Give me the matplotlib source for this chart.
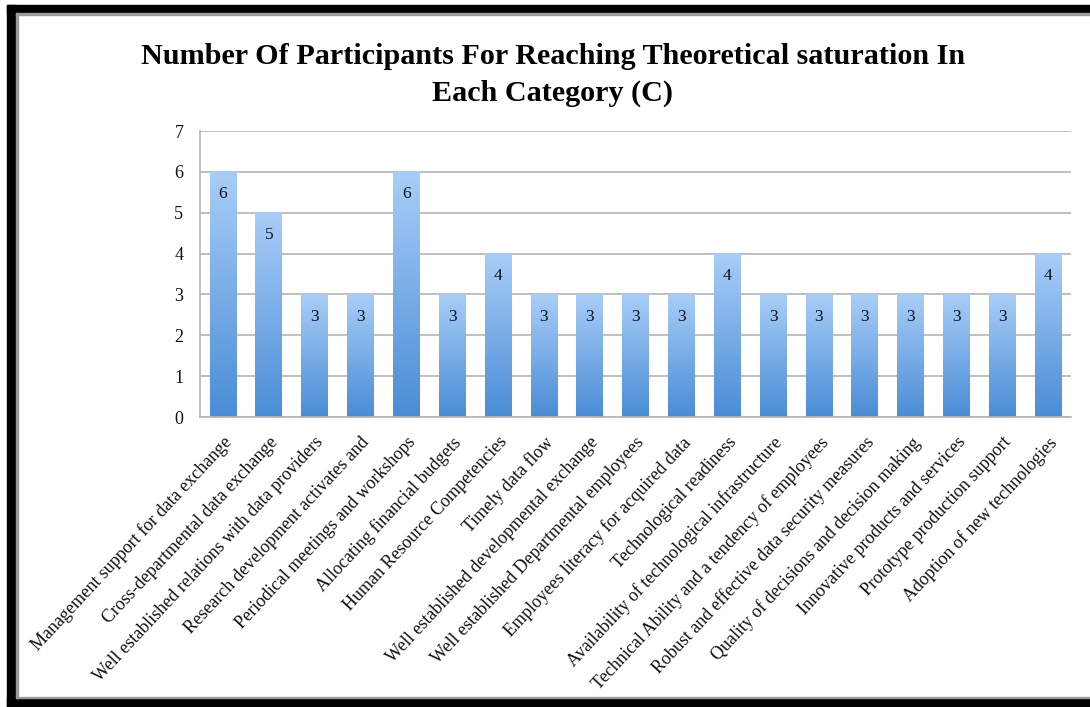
import matplotlib
matplotlib.use('Agg')

import numpy as np
import matplotlib.pyplot as plt
from matplotlib.patches import Rectangle
from matplotlib.colors import LinearSegmentedColormap

# category names along the x axis
categories = [
    "Management support for data exchange",
    "Cross-departmental data exchange",
    "Well established relations with data providers",
    "Research development activates and",
    "Periodical meetings and workshops",
    "Allocating financial budgets",
    "Human Resource Competencies",
    "Timely data flow",
    "Well established developmental exchange",
    "Well established Departmental employees",
    "Employees literacy for acquired data",
    "Technological readiness",
    "Availability of technological infrastructure",
    "Technical Ability and a tendency of employees",
    "Robust and effective data security measures",
    "Quality of decisions and decision making",
    "Innovative products and services",
    "Prototype production support",
    "Adoption of new technologies",
]
# participants needed per category
participants = [6, 5, 3, 3, 6, 3, 4, 3, 3, 3, 3, 4, 3, 3, 3, 3, 3, 3, 4]
y_ticks = [0, 1, 2, 3, 4, 5, 6, 7]

title = "Number Of Participants For Reaching Theoretical saturation In\nEach Category (C)"

plt.rcParams['font.family'] = ['Liberation Serif', 'DejaVu Serif']

W, H = 1090, 707
fig = plt.figure(figsize=(W / 100, H / 100), dpi=100)
fig.patch.set_facecolor('white')

# heavy black frame (left, top, bottom) with thin grey inner line
def px_rect(x0, y0, x1, y1, color):
    fig.patches.append(Rectangle((x0 / W, 1 - y1 / H), (x1 - x0) / W, (y1 - y0) / H,
                                 transform=fig.transFigure, color=color, zorder=0))

px_rect(7, 5, W, 13, 'black')
px_rect(7, 5, 16, H, 'black')
px_rect(7, 698, W, H, 'black')
px_rect(16, 13, W, 14.5, '#9a9a9a')
px_rect(16, 696.5, W, 698, '#9a9a9a')
px_rect(16, 13, 17.5, 698, '#9a9a9a')

ax = fig.add_axes([200 / W, 1 - 417 / H, (1071 - 200) / W, (417 - 131) / H])
ax.set_facecolor('none')

x = np.arange(len(categories))
bars = ax.bar(x, participants, width=0.58, color='none', edgecolor='none', zorder=2)

# vertical gradient fill per bar: light on top, deeper blue at the base
cmap = LinearSegmentedColormap.from_list('barfill', ['#4a8dd6', '#a9cdf8'])
grad = np.linspace(0, 1, 256).reshape(-1, 1)
for b in bars:
    x0, w, h = b.get_x(), b.get_width(), b.get_height()
    ax.imshow(grad, extent=[x0, x0 + w, 0, h], origin='lower', aspect='auto',
              cmap=cmap, zorder=2, interpolation='bicubic')
    ax.text(x0 + w / 2, h - 0.55, str(h), ha='center', va='center',
            fontsize=12.5, color='#111111', zorder=3)

ax.set_xlim(-0.5, len(categories) - 0.5)
ax.set_ylim(0, 7)
ax.set_yticks(y_ticks)
ax.yaxis.grid(True, color='#b4b4b4', linewidth=1.2, zorder=1)
ax.set_axisbelow(True)
for s in ['top', 'right']:
    ax.spines[s].set_visible(False)
for s in ['left', 'bottom']:
    ax.spines[s].set_color('#b4b4b4')
    ax.spines[s].set_linewidth(1.2)
ax.tick_params(axis='both', length=0, labelsize=13, colors='#111111')
ax.tick_params(axis='y', pad=12)
ax.set_xticks(x)
ax.set_xticklabels(categories, rotation=47, ha='right', rotation_mode='anchor')
ax.tick_params(axis='x', pad=12)

fig.text(553 / W, 1 - 75 / H, title, ha='center', va='center', fontsize=21.7,
         fontweight='bold', linespacing=1.5)

fig.savefig('out.png', dpi=100)
